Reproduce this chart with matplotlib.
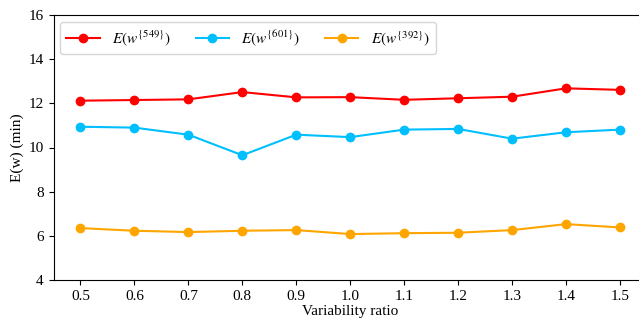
import matplotlib
matplotlib.use("Agg")
import matplotlib.pyplot as plt

plt.rcParams["font.family"] = "Liberation Serif"
plt.rcParams["mathtext.fontset"] = "stix"

ratios = [0.5, 0.6, 0.7, 0.8, 0.9, 1.0, 1.1, 1.2, 1.3, 1.4, 1.5]
e549 = [12.12, 12.15, 12.18, 12.51, 12.27, 12.28, 12.16, 12.23, 12.30, 12.68, 12.61]
e601 = [10.94, 10.90, 10.58, 9.65, 10.58, 10.47, 10.81, 10.84, 10.40, 10.69, 10.81]
e392 = [6.35, 6.23, 6.17, 6.23, 6.26, 6.08, 6.12, 6.14, 6.26, 6.53, 6.38]
labels = [r"$E(w^{\{549\}})$", r"$E(w^{\{601\}})$", r"$E(w^{\{392\}})$"]
colors = ["#ff0000", "#00bfff", "#ffa500"]

fig = plt.figure(figsize=(6.39, 3.24), dpi=100)
ax = fig.add_axes([53.5 / 639, 44 / 324, (647 - 53.5) / 639, 265 / 324])

for vals, lab, col in zip([e549, e601, e392], labels, colors):
    ax.plot(ratios, vals, "-o", color=col, label=lab, lw=1.5, ms=6)

ax.set_xlim(0.45, 1.55)
ax.set_ylim(4, 16)
ax.set_xticks(ratios)
ax.set_xticklabels([f"{r:.1f}" for r in ratios])
ax.set_yticks([4, 6, 8, 10, 12, 14, 16])
ax.tick_params(labelsize=11)
ax.set_xlabel("Variability ratio", fontsize=11, labelpad=2)
ax.set_ylabel("E(w) (min)", fontsize=11, labelpad=3)
ax.legend(loc="upper left", ncol=3, fontsize=11, columnspacing=1.6,
          handlelength=2.2, borderaxespad=0.45)

fig.savefig("out.png", dpi=100)
